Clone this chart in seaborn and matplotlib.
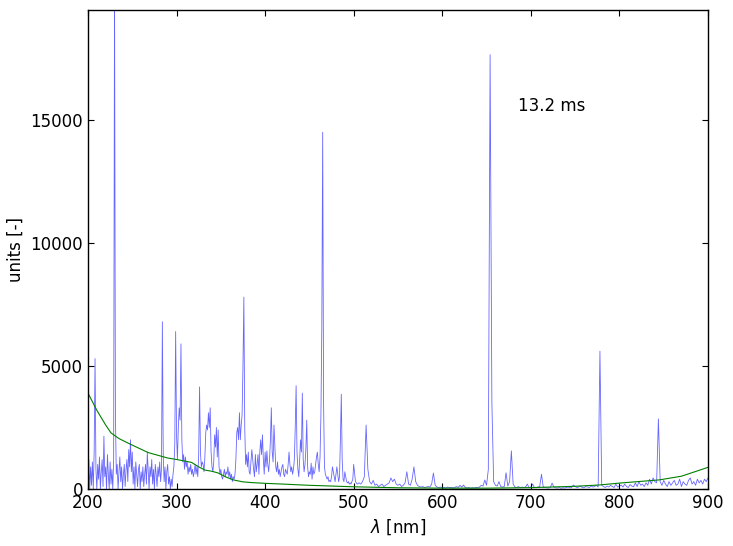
import numpy as np
import pandas as pd
import matplotlib
matplotlib.use("Agg")
import matplotlib.pyplot as plt
import seaborn as sns

# ---- data ----
wl_uv = np.arange(200, 501)          # 1 nm sampling, 200..500 nm
counts_uv = [
    400, 1200, 0, 900, 150, 1100, 0, 1500, 5300, 800,            # 200
    0, 1000, 400, 1300, 0, 700, 1200, 100, 2150, 500,            # 210
    900, 0, 1400, 600, 0, 1100, 200, 800, 0, 1200,               # 220
    20500, 3000, 600, 1000, 0, 700, 1300, 300, 900, 0,           # 230
    600, 1000, 100, 800, 1200, 300, 1600, 900, 2000, 700,        # 240
    1500, 200, 900, 0, 1100, 600, 100, 800, 1000, 0,             # 250
    700, 300, 900, 100, 600, 1000, 200, 1500, 700, 0,            # 260
    900, 500, 1200, 200, 800, 0, 1000, 600, 100, 900,            # 270
    500, 1100, 300, 800, 6800, 1300, 300, 900, 0, 700,           # 280
    1000, 200, 500, 0, 400, 100, 600, 900, 1800, 6400,           # 290
    2200, 1200, 2500, 3300, 2800, 5900, 2000, 1100, 1400, 800,   # 300
    1300, 900, 1100, 600, 900, 700, 1000, 600, 800, 500,         # 310
    700, 1000, 600, 900, 500, 1400, 4150, 1500, 900, 1100,       # 320
    1000, 700, 1300, 2300, 2600, 2400, 3100, 2500, 3300, 1500,   # 330
    900, 700, 1100, 2200, 1700, 2500, 1300, 2400, 900, 600,      # 340
    800, 500, 400, 600, 800, 500, 700, 600, 900, 500,            # 350
    700, 400, 600, 300, 500, 400, 600, 1200, 2300, 2500,         # 360
    2000, 3100, 2000, 2600, 3000, 5000, 7800, 2500, 1000, 1400,  # 370
    900, 1500, 700, 600, 1100, 1600, 1200, 800, 500, 1400,       # 380
    700, 1000, 1400, 600, 1500, 2000, 1400, 2200, 1200, 600,     # 390
    1500, 900, 1550, 1000, 700, 1200, 2000, 3300, 1500, 1100,    # 400
    2600, 1800, 900, 700, 1100, 600, 800, 500, 700, 900,         # 410
    1000, 600, 500, 800, 700, 600, 1000, 1500, 1000, 700,        # 420
    900, 600, 800, 1200, 2500, 4200, 1500, 800, 500, 1200,       # 430
    2000, 1500, 3900, 1200, 700, 1000, 1600, 2800, 900, 500,     # 440
    700, 600, 1050, 400, 900, 600, 700, 1000, 1300, 1500,        # 450
    1000, 700, 1300, 3000, 6500, 14500, 3500, 900, 600, 500,     # 460
    400, 500, 300, 350, 300, 500, 900, 700, 500, 300,            # 470
    600, 900, 600, 300, 500, 2000, 3850, 1200, 400, 300,         # 480
    700, 500, 300, 250, 300, 200, 250, 200, 300, 400,            # 490
    1000,                                                        # 500
]

wl_vis = np.arange(502, 901, 2)      # 2 nm sampling, 502..900 nm
counts_vis = [
    300, 200, 250, 200, 300, 500, 2600, 800, 300, 200,           # 502-520
    350, 150, 200, 100, 150, 200, 100, 150, 200, 250,            # 522-540
    450, 300, 400, 200, 150, 200, 100, 150, 250, 700,            # 542-560
    200, 150, 400, 900, 300, 150, 100, 80, 100, 60,              # 562-580
    80, 100, 80, 200, 650, 150, 80, 60, 80, 50,                  # 582-600
    60, 40, 80, 50, 70, 40, 60, 100, 60, 150,                    # 602-620
    80, 160, 60, 40, 60, 30, 50, 40, 60, 50,                     # 622-640
    80, 150, 120, 366, 150, 800, 17650, 3500, 300, 150,          # 642-660
    120, 300, 100, 80, 100, 660, 120, 300, 1550, 200,            # 662-680
    80, 60, 100, 50, 80, 60, 80, 200, 60, 80,                    # 682-700
    200, 60, 50, 80, 100, 600, 80, 60, 50, 40,                   # 702-720
    60, 240, 80, 50, 40, 60, 30, 50, 40, 60,                     # 722-740
    80, 50, 60, 160, 100, 60, 80, 120, 60, 50,                   # 742-760
    100, 80, 60, 120, 80, 100, 150, 80, 5600, 150,               # 762-780
    100, 60, 120, 80, 150, 100, 60, 200, 80, 120,                # 782-800
    160, 80, 200, 100, 60, 180, 120, 90, 250, 100,               # 802-820
    300, 150, 200, 100, 250, 150, 400, 200, 450, 300,            # 822-840
    250, 2850, 300, 150, 350, 200, 100, 300, 150, 250,           # 842-860
    350, 150, 200, 400, 100, 300, 200, 150, 350, 450,            # 862-880
    200, 300, 150, 400, 250, 350, 200, 400, 300, 450,            # 882-900
]

lamp_wl = [200, 205, 210, 215, 220, 226, 235, 245, 255, 268, 280, 290, 300,
           310, 317, 325, 332, 340, 347, 355, 364, 375, 385, 400, 420, 450,
           500, 550, 600, 650, 700, 750, 778, 800, 845, 870, 900]
lamp_counts = [3900, 3550, 3200, 2900, 2600, 2280, 2050, 1870, 1700, 1480,
               1360, 1260, 1200, 1130, 1080, 900, 770, 720, 650, 500, 370,
               290, 260, 230, 200, 150, 90, 50, 35, 35, 55, 110, 165, 240,
               370, 520, 880]

annotation = "13.2 ms"
x_ticks = [200, 300, 400, 500, 600, 700, 800, 900]
y_ticks = [0, 5000, 10000, 15000]

spec = pd.DataFrame({"wl": np.concatenate([wl_uv, wl_vis]),
                     "counts": counts_uv + counts_vis})
lamp = pd.DataFrame({"wl": lamp_wl, "counts": lamp_counts})

# ---- style ----
sns.set_style("ticks")
plt.rcParams.update({
    "font.family": ["DejaVu Sans"],
    "font.size": 12,
    "text.color": "black",
    "axes.labelcolor": "black",
    "xtick.direction": "in",
    "ytick.direction": "in",
    "xtick.top": True,
    "ytick.right": True,
    "xtick.major.size": 4,
    "ytick.major.size": 4,
    "xtick.labelsize": 12,
    "ytick.labelsize": 12,
    "axes.edgecolor": "black",
    "axes.linewidth": 1.0,
    "xtick.color": "black",
    "ytick.color": "black",
    "xtick.labelcolor": "black",
    "ytick.labelcolor": "black",
    "mathtext.fontset": "dejavusans",
})

fig = plt.figure(figsize=(7.33, 5.46), dpi=100)
ax = fig.add_axes([0.12, 0.1044, 0.8459, 0.8773])

sns.lineplot(data=spec, x="wl", y="counts", ax=ax, color="blue", alpha=0.6,
             linewidth=0.6, estimator=None, sort=False)
sns.lineplot(data=lamp, x="wl", y="counts", ax=ax, color="green",
             linewidth=0.8, estimator=None, sort=False)

ax.set_xlim(200, 900)
ax.set_ylim(0, 19470)
ax.set_xticks(x_ticks)
ax.set_yticks(y_ticks)
ax.set_xlabel(r"$\lambda$ [nm]", fontsize=12, color="black")
ax.set_ylabel("units [-]", fontsize=12, color="black")
ax.text(685.5, 15570, annotation, ha="left", va="center", fontsize=12,
        color="black")
for s in ax.spines.values():
    s.set_visible(True)

fig.savefig("out.png", dpi=100)
